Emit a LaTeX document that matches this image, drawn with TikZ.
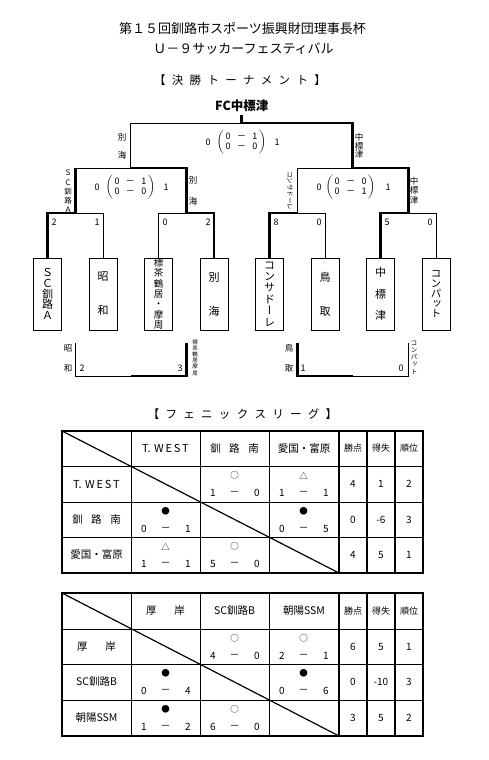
\documentclass[tikz,border=0pt]{standalone}
\usepackage{fontspec}
\setmainfont{Noto Sans CJK JP}
\newfontfamily\tate{Noto Sans CJK JP}[RawFeature=+vert]
\lineskiplimit=-100pt

\newcommand{\gp}{\hspace{6.3pt}}
\newcommand{\twest}{T.\kern3.5pt W\kern1.8pt E\kern1.8pt S\kern1.8pt T}
\newcommand{\placarmat}[4]{{\lineskiplimit=0pt $\left(\begin{tabular}{@{\hspace{1.5pt}}c@{\hspace{6.5pt}}c@{\hspace{6.5pt}}c@{\hspace{1.5pt}}}#1&－&#2\\#3&－&#4\end{tabular}\right)$}}
\newcommand{\jogo}[6]{% nome, x esquerda, y topo, simbolo, placar
  \node[simb] (#1s) at (#2+34.5,#3+9.5) {#4};
  \node[num] (#1a) at (#2+13,#3+27) {#5};
  \node[num] (#1t) at (#2+34.5,#3+27) {－};
  \node[num] (#1b) at (#2+57,#3+27) {#6};}

\begin{document}
\begin{tikzpicture}[x=1pt, y=-1pt,
    fino/.style={line width=0.9pt},
    grosso/.style={line width=2.8pt},
    borda/.style={line width=1.6pt},
    linha/.style={line width=1pt},
    diag/.style={line width=1.2pt},
    equipe/.style={draw, line width=0.9pt, minimum width=28pt, minimum height=72pt, inner sep=0pt, align=center},
    placar/.style={font=\fontsize{9}{10}\selectfont, inner sep=0pt},
    rotulo/.style={inner sep=0pt, align=center},
    cab/.style={font=\fontsize{10.5}{11}\selectfont, inner sep=0pt},
    peq/.style={font=\fontsize{9}{10}\selectfont, inner sep=0pt},
    num/.style={font=\fontsize{10}{11}\selectfont, inner sep=0pt},
    simb/.style={font=\fontsize{8.5}{9}\selectfont, inner sep=0pt}]
  \useasboundingbox (0,0) rectangle (489,760);

  % Titulo
  \node[font=\fontsize{13}{14}\selectfont] (titulo1) at (242.5,29) {第１５回釧路市スポーツ振興財団理事長杯};
  \node[font=\fontsize{13}{14}\selectfont] (titulo2) at (243.5,49) {Ｕ－９サッカーフェスティバル};
  \node[font=\fontsize{11.5}{12}\selectfont] (torneio) at (240,80) {【\gp 決\gp 勝\gp ト\gp ー\gp ナ\gp メ\gp ン\gp ト\gp 】};
  \node[font=\bfseries\fontsize{12.5}{13}\selectfont, inner sep=3pt] (campeao) at (241.75,106) {FC中標津};

  % Equipes
  \node[equipe, font=\fontsize{11}{10.8}\selectfont] (sca) at (47.5,294) {Ｓ\\Ｃ\\釧\\路\\Ａ};
  \node[equipe, font=\fontsize{11}{34}\selectfont] (showa) at (103,294) {昭\\和};
  \node[equipe, font=\fontsize{9.5}{10.3}\selectfont] (shibecha) at (158.5,294) {標\\茶\\鶴\\居\\・\\摩\\周};
  \node[equipe, font=\fontsize{11}{34}\selectfont] (bekkai) at (214,294) {別\\海};
  \node[equipe, font=\tate\fontsize{11}{11.4}\selectfont] (consa) at (269.5,294) {コ\\ン\\サ\\ド\\ー\\レ};
  \node[equipe, font=\fontsize{11}{34}\selectfont] (tottori) at (325,294) {鳥\\取};
  \node[equipe, font=\fontsize{11}{21.5}\selectfont] (naka) at (380.5,294) {中\\標\\津};
  \node[equipe, font=\tate\fontsize{10.5}{10}\selectfont] (compat) at (436,294) {コ\\ン\\パ\\ッ\\ト};

  % Chave
  \coordinate (r1a) at (75.25,213);
  \coordinate (r1b) at (186.25,213);
  \coordinate (r1c) at (297.25,213);
  \coordinate (r1d) at (408.25,213);
  \coordinate (sfL) at (130.75,168);
  \coordinate (sfR) at (352.75,168);
  \coordinate (topo) at (241.75,123);
  \draw[grosso] (sca.north) |- (r1a) -- (r1a |- sfL); % SC釧路A
  \draw[fino] (showa.north) |- (r1a);
  \draw[fino] (r1a |- sfL) -- (sfL);
  \draw[fino] (shibecha.north) |- (r1b);
  \draw[grosso] (bekkai.north) |- (r1b) |- (sfL); % 別海
  \draw[fino] (sfL) |- (topo);
  \draw[grosso] (consa.north) |- (r1c);
  \draw[fino] (tottori.north) |- (r1c);
  \draw[fino] (r1c) |- (sfR);
  \draw[fino] (compat.north) |- (r1d);
  \draw[grosso] (naka.north) |- (r1d) |- (sfR) |- (topo) -- (campeao.south); % campeao

  % Placares
  \node[placar] (s1) at (54,222) {2};
  \node[placar] (s2) at (97,222) {1};
  \node[placar] (s3) at (165,222) {0};
  \node[placar] (s4) at (208,222) {2};
  \node[placar] (s5) at (276,222) {8};
  \node[placar] (s6) at (319,222) {0};
  \node[placar] (s7) at (387,222) {5};
  \node[placar] (s8) at (430,222) {0};
  \node[placar] (fa) at (208,142) {0};
  \node[placar] (fm) at (241.5,142) {\placarmat{0}{1}{0}{0}};
  \node[placar] (fb) at (277,142) {1};
  \node[placar] (sea) at (97,187) {0};
  \node[placar] (sem) at (130.5,187) {\placarmat{0}{1}{0}{0}};
  \node[placar] (seb) at (166,187) {1};
  \node[placar] (sda) at (319,187) {0};
  \node[placar] (sdm) at (350.5,187) {\placarmat{0}{0}{0}{1}};
  \node[placar] (sdb) at (388,187) {1};

  % Rotulos
  \node[rotulo, font=\fontsize{8.5}{18}\selectfont] (lfe) at (122,146) {別\\海};
  \node[rotulo, font=\fontsize{8.5}{8.7}\selectfont] (lfd) at (359,146) {中\\標\\津};
  \node[rotulo, font=\fontsize{7.5}{9.25}\selectfont] (lse1) at (68,191.5) {Ｓ\\Ｃ\\釧\\路\\Ａ};
  \node[rotulo, font=\fontsize{8.5}{21}\selectfont] (lse2) at (193,190.5) {別\\海};
  \node[rotulo, rotate=-90, font=\fontsize{6.5}{7}\selectfont] (lsd1) at (290,190.5) {コンサドーレ};
  \node[rotulo, font=\fontsize{8.5}{9.5}\selectfont] (lsd2) at (414,190.5) {中\\標\\津};

  % Classificacao
  \coordinate (c1a) at (75.25,343);
  \coordinate (c1m) at (130.75,376);
  \coordinate (c1b) at (186.25,343);
  \coordinate (c2a) at (297.25,343);
  \coordinate (c2m) at (352.75,376);
  \coordinate (c2b) at (408.25,343);
  \draw[fino] (c1a) |- (c1m);
  \draw[grosso] (c1m) -| (c1b);
  \draw[grosso] (c2a) |- (c2m);
  \draw[fino] (c2m) -| (c2b);
  \node[rotulo, font=\fontsize{8.5}{20}\selectfont] (lc1) at (68,358) {昭\\和};
  \node[placar] (c1x) at (82,368) {2};
  \node[placar] (c1y) at (180,368) {3};
  \node[rotulo, font=\fontsize{5.5}{6.2}\selectfont] (lc2) at (195,357.5) {標\\茶\\鶴\\居\\摩\\周};
  \node[rotulo, font=\fontsize{8.5}{20}\selectfont] (lc3) at (289,358) {鳥\\取};
  \node[placar] (c2x) at (303,368) {1};
  \node[placar] (c2y) at (401,368) {0};
  \node[rotulo, font=\tate\fontsize{6.5}{7.3}\selectfont] (lc4) at (414,357.5) {コ\\ン\\パ\\ッ\\ト};

  % Liga
  \node[font=\fontsize{11.5}{12}\selectfont] (liga) at (242.5,414) {【\gp フ\gp ェ\gp ニ\gp ッ\gp ク\gp ス\gp リ\gp ー\gp グ\gp 】};

  % Tabela 1
  \foreach \x in {131,200,269} \draw[fino] (\x,431) -- (\x,573);
  \foreach \x in {339,367,395} \draw[borda] (\x,431) -- (\x,573);
  \foreach \y in {466,502,537} \draw[linha] (62,\y) -- (423,\y);
  \draw[borda] (62,431) rectangle (423,573);
  \draw[diag] (62,431) -- (339,573); % diagonal
  \node[cab, font=\fontsize{11}{12}\selectfont] (ah1) at (165.5,448.5) {\twest};
  \node[cab] (ah2) at (234.5,448.5) {釧\hspace{8.5pt}路\hspace{8.5pt}南};
  \node[cab] (ah3) at (304,448.5) {愛国・富原};
  \node[peq] (ah4) at (353,448.5) {勝点};
  \node[peq] (ah5) at (381,448.5) {得失};
  \node[peq] (ah6) at (409,448.5) {順位};
  \node[cab, font=\fontsize{11}{12}\selectfont] (av1) at (96.5,484) {\twest};
  \node[cab] (av2) at (96.5,519.5) {釧\hspace{8.5pt}路\hspace{8.5pt}南};
  \node[cab] (av3) at (96.5,555) {愛国・富原};
  \jogo{a12}{200}{466}{○}{1}{0}
  \jogo{a13}{269}{466}{△}{1}{1}
  \jogo{a21}{131}{502}{●}{0}{1}
  \jogo{a23}{269}{502}{●}{0}{5}
  \jogo{a31}{131}{537}{△}{1}{1}
  \jogo{a32}{200}{537}{○}{5}{0}
  \foreach \y/\p/\g/\r [count=\i] in {484/4/1/2, 519.5/0/-6/3, 555/4/5/1} {
    \node[num] (a\i-p) at (353,\y) {\p};
    \node[num] (a\i-g) at (381,\y) {\g};
    \node[num] (a\i-r) at (409,\y) {\r};
  }

  % Tabela 2
  \foreach \x in {131,200,269} \draw[fino] (\x,593) -- (\x,736);
  \foreach \x in {339,367,395} \draw[borda] (\x,593) -- (\x,736);
  \foreach \y in {629,664,700} \draw[linha] (62,\y) -- (423,\y);
  \draw[borda] (62,593) rectangle (423,736);
  \draw[diag] (62,593) -- (339,736); % diagonal
  \node[cab] (bh1) at (165.5,611) {厚\hspace{18pt}岸};
  \node[cab] (bh2) at (234.5,611) {SC釧路B};
  \node[cab] (bh3) at (304,611) {朝陽SSM};
  \node[peq] (bh4) at (353,611) {勝点};
  \node[peq] (bh5) at (381,611) {得失};
  \node[peq] (bh6) at (409,611) {順位};
  \node[cab] (bv1) at (96.5,646.5) {厚\hspace{18pt}岸};
  \node[cab] (bv2) at (96.5,682) {SC釧路B};
  \node[cab] (bv3) at (96.5,718) {朝陽SSM};
  \jogo{b12}{200}{629}{○}{4}{0}
  \jogo{b13}{269}{629}{○}{2}{1}
  \jogo{b21}{131}{664}{●}{0}{4}
  \jogo{b23}{269}{664}{●}{0}{6}
  \jogo{b31}{131}{700}{●}{1}{2}
  \jogo{b32}{200}{700}{○}{6}{0}
  \foreach \y/\p/\g/\r [count=\i] in {646.5/6/5/1, 682/0/-10/3, 718/3/5/2} {
    \node[num] (b\i-p) at (353,\y) {\p};
    \node[num] (b\i-g) at (381,\y) {\g};
    \node[num] (b\i-r) at (409,\y) {\r};
  }
\end{tikzpicture}
\end{document}
